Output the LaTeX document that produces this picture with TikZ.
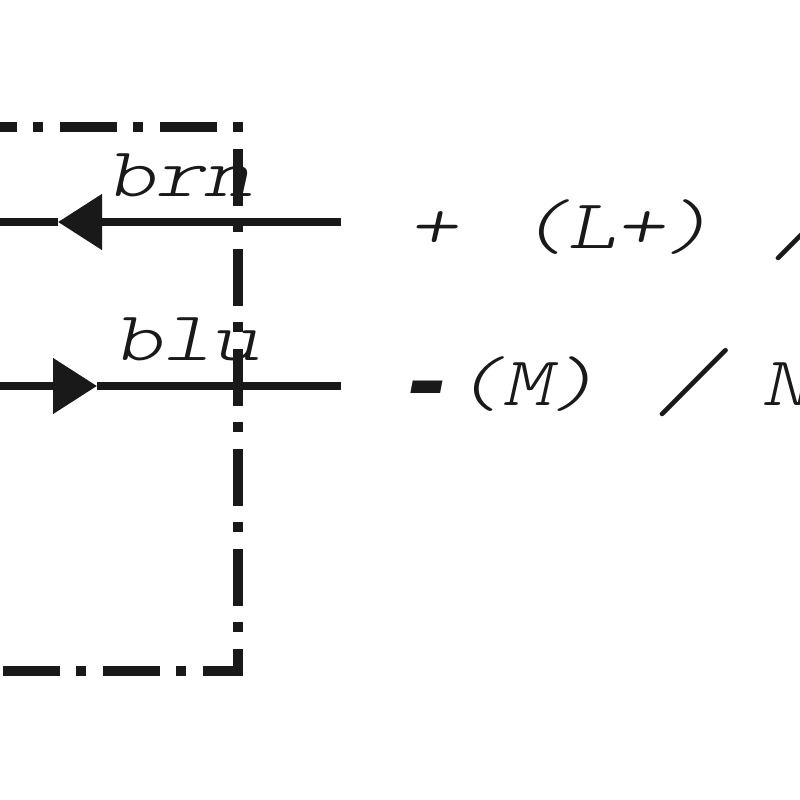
\documentclass[tikz,border=0pt]{standalone}
\usepackage{fontspec}
\usepackage{graphicx}
\usetikzlibrary{arrows.meta}
\newfontfamily\lightmono{lmmonolt10-oblique.otf}
\newfontfamily\libmono{Liberation Mono}
\definecolor{ink}{gray}{0.1}
\tikzset{
  boxline/.style={line width=10.5pt, draw=ink},
  wire/.style={line width=8pt, draw=ink},
  lbl/.style={inner sep=0pt, anchor=base west, text=ink,
    font=\fontsize{70}{80}\selectfont\lightmono},
  tipL/.style={-{Triangle[length=44pt,width=54pt]}},
}
\newcommand{\widetxt}[1]{\scalebox{1.33}[1]{#1}}
\newcommand{\slashtxt}{\scalebox{1.46}{\rotatebox{-12}{/}}}
\newcommand{\thickdash}{\scalebox{1.5}[1.5]{\raisebox{-0.27em}{\libmono\bfseries\itshape -}}}
\begin{document}
\begin{tikzpicture}[x=1pt,y=-1pt]
\useasboundingbox (0,0) rectangle (800,800);

% labels
\node[lbl] (brn) at (106,196) {\widetxt{brn}};
\node[lbl] (blu) at (113,360) {\widetxt{blu}};
\node[lbl] (plus) at (408,248) {\widetxt{+}};
\node[lbl] (Lp) at (518,248) {\widetxt{(L+)}};
\node[lbl] (sla) at (770,250) {\slashtxt};
\node[lbl] (minus) at (395,386) {\thickdash};
\node[lbl] (M) at (453,405) {\widetxt{(M)}};
\node[lbl] (slb) at (654,406) {\slashtxt};
\node[lbl] (N) at (761,405) {\widetxt{N}};

% wires
\coordinate (brnR) at (341,222);
\coordinate (brnT) at (58,222);
\coordinate (brnL) at (-10,222);
\coordinate (bluR) at (341,386);
\coordinate (bluT) at (97,386);
\coordinate (bluL) at (-10,386);
\draw[wire] (brnL) -- (brnT);
\draw[wire, tipL] (brnR) -- (brnT);
\draw[wire] (bluR) -- (bluT);
\draw[wire, tipL] (bluL) -- (bluT);

% dash-dot enclosure
\draw[boxline, dash pattern=on 10pt off 16pt on 57pt off 17pt] (243,127) -- (-10,127);
\draw[boxline, dash pattern=on 10pt off 17pt on 57pt off 16pt] (238,122) -- (238,676);
\draw[boxline, dash pattern=on 57pt off 17pt on 10pt off 16pt, dash phase=17pt] (243,671) -- (-10,671);
\end{tikzpicture}
\end{document}
